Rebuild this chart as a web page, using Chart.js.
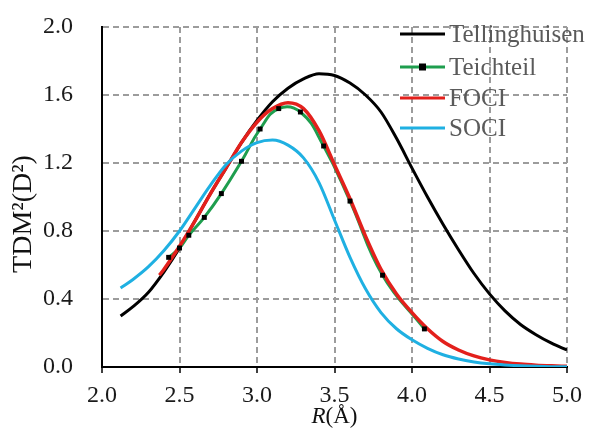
<!DOCTYPE html>
<html>
<head>
<meta charset="utf-8">
<script src="https://cdn.jsdelivr.net/npm/chart.js@4.4.1/dist/chart.umd.min.js"></script>
<style>
  html, body { margin: 0; padding: 0; background: #fff; }
  #wrap { width: 590px; height: 432px; }
</style>
</head>
<body>
<div id="wrap"><canvas id="myChart" width="590" height="432"></canvas></div>
<script>
// Tellinghuisen
const tellX = [2.12, 2.2, 2.3, 2.4, 2.5, 2.6, 2.7, 2.8, 2.9, 3.0, 3.1, 3.2, 3.3, 3.4, 3.5, 3.6, 3.7, 3.8, 3.9, 4.0, 4.1, 4.2, 4.3, 4.4, 4.5, 4.6, 4.7, 4.8, 4.9, 5.0];
const tellY = [0.30, 0.355, 0.44, 0.56, 0.70, 0.86, 1.02, 1.17, 1.32, 1.45, 1.56, 1.64, 1.695, 1.725, 1.715, 1.67, 1.60, 1.50, 1.345, 1.17, 1.00, 0.84, 0.69, 0.55, 0.43, 0.33, 0.25, 0.19, 0.14, 0.10];

// Teichteil (markers)
const teichX = [2.43, 2.50, 2.56, 2.66, 2.77, 2.90, 3.02, 3.14, 3.28, 3.43, 3.60, 3.81, 4.08];
const teichY = [0.645, 0.70, 0.775, 0.88, 1.02, 1.21, 1.40, 1.52, 1.50, 1.30, 0.976, 0.54, 0.224];

// FOCI
const fociX = [2.37, 2.4, 2.5, 2.6, 2.7, 2.8, 2.9, 3.0, 3.1, 3.2, 3.3, 3.4, 3.5, 3.6, 3.7, 3.8, 3.9, 4.0, 4.1, 4.2, 4.3, 4.4, 4.5, 4.6, 4.7, 4.8, 4.9, 5.0];
const fociY = [0.54, 0.575, 0.71, 0.86, 1.02, 1.17, 1.32, 1.44, 1.52, 1.555, 1.52, 1.39, 1.19, 0.99, 0.77, 0.575, 0.43, 0.32, 0.225, 0.15, 0.10, 0.065, 0.042, 0.027, 0.017, 0.011, 0.007, 0.004];

// SOCI
const sociX = [2.12, 2.2, 2.3, 2.4, 2.5, 2.6, 2.7, 2.8, 2.9, 3.0, 3.1, 3.2, 3.3, 3.4, 3.5, 3.6, 3.7, 3.8, 3.9, 4.0, 4.1, 4.2, 4.3, 4.4, 4.5, 4.6, 4.7, 4.8, 4.9, 5.0];
const sociY = [0.465, 0.515, 0.59, 0.685, 0.80, 0.935, 1.07, 1.19, 1.27, 1.32, 1.335, 1.305, 1.23, 1.085, 0.865, 0.645, 0.46, 0.32, 0.225, 0.16, 0.11, 0.072, 0.047, 0.03, 0.019, 0.012, 0.007, 0.004, 0.002, 0.001];

const seriesNames = ['Tellinghuisen', 'Teichteil', 'FOCI', 'SOCI'];
const seriesColors = ['#000000', '#1e9e4e', '#e3201c', '#1fb0e2'];

const xTicks = [2.0, 2.5, 3.0, 3.5, 4.0, 4.5, 5.0];
const yTicks = [0.0, 0.4, 0.8, 1.2, 1.6, 2.0];

const SERIF = '"Liberation Serif", "Times New Roman", serif';

function toPoints(xs, ys) {
	return xs.map(function (x, i) { return { x: x, y: ys[i] }; });
}

// legend + axis titles drawn by hand so they sit like the original
const refDecor = {
	id: 'refDecor',
	afterDraw(chart) {
		const ctx = chart.ctx;
		const area = chart.chartArea;
		ctx.save();

		// legend inside the plot, top right
		ctx.font = '25px ' + SERIF;
		ctx.textBaseline = 'middle';
		ctx.textAlign = 'left';
		const rows = [34, 67, 98, 128];
		for (let i = 0; i < seriesNames.length; i++) {
			ctx.strokeStyle = seriesColors[i];
			ctx.lineWidth = 3;
			ctx.beginPath();
			ctx.moveTo(400, rows[i]);
			ctx.lineTo(445, rows[i]);
			ctx.stroke();
			if (i === 1) {
				ctx.fillStyle = '#000';
				ctx.fillRect(419, rows[i] - 3.5, 7, 7);
			}
			ctx.fillStyle = '#5a5a5a';
			ctx.fillText(seriesNames[i], 449, rows[i] + 1);
		}

		// x title: R(Å) with italic R
		ctx.fillStyle = '#111';
		ctx.textBaseline = 'middle';
		ctx.font = 'italic 23px ' + SERIF;
		const r = 'R';
		const rest = '(Å)';
		const wR = ctx.measureText(r).width;
		ctx.font = '23px ' + SERIF;
		const wRest = ctx.measureText(rest).width;
		const cx = (area.left + area.right) / 2;
		let x0 = cx - (wR + wRest) / 2;
		ctx.font = 'italic 23px ' + SERIF;
		ctx.fillText(r, x0, 417);
		ctx.font = '23px ' + SERIF;
		ctx.fillText(rest, x0 + wR, 417);

		// y title
		ctx.translate(24, 214);
		ctx.rotate(-Math.PI / 2);
		ctx.font = '28px ' + SERIF;
		ctx.textAlign = 'center';
		ctx.fillText('TDM²(D²)', 0, 0);
		ctx.restore();
	}
};

const gridStyle = {
	color: '#9c9c9c',
	lineWidth: 2,
};

new Chart(document.getElementById('myChart').getContext('2d'), {
	type: 'scatter',
	data: {
		datasets: [
			{
				label: seriesNames[1] + ' markers',
				data: toPoints(teichX, teichY),
				showLine: false,
				pointStyle: 'rect',
				pointRadius: 3.5,
				pointBackgroundColor: '#000',
				pointBorderWidth: 0,
				order: 0,
			},
			{
				label: seriesNames[3],
				data: toPoints(sociX, sociY),
				showLine: true,
				borderColor: seriesColors[3],
				borderWidth: 3,
				pointRadius: 0,
				cubicInterpolationMode: 'monotone',
				order: 1,
			},
			{
				label: seriesNames[2],
				data: toPoints(fociX, fociY),
				showLine: true,
				borderColor: seriesColors[2],
				borderWidth: 3.5,
				pointRadius: 0,
				cubicInterpolationMode: 'monotone',
				order: 2,
			},
			{
				label: seriesNames[1],
				data: toPoints(teichX, teichY),
				showLine: true,
				borderColor: seriesColors[1],
				borderWidth: 3,
				pointRadius: 0,
				tension: 0.45,
				order: 3,
			},
			{
				label: seriesNames[0],
				data: toPoints(tellX, tellY),
				showLine: true,
				borderColor: seriesColors[0],
				borderWidth: 3,
				pointRadius: 0,
				cubicInterpolationMode: 'monotone',
				order: 4,
			},
		]
	},
	options: {
		responsive: false,
		animation: false,
		layout: { padding: { top: 27, right: 23, left: 0, bottom: 0 } },
		plugins: {
			legend: { display: false },
			tooltip: { enabled: false },
		},
		scales: {
			x: {
				type: 'linear',
				min: 2,
				max: 5,
				afterBuildTicks: function (scale) {
					scale.ticks = xTicks.map(function (v) { return { value: v }; });
				},
				afterFit: function (scale) { scale.height = 65; },
				ticks: {
					font: { family: SERIF, size: 24 },
					color: '#1a1a1a',
					padding: 8,
					maxRotation: 0,
					callback: function (v) { return Number(v).toFixed(1); },
				},
				grid: Object.assign({}, gridStyle, {
					drawTicks: true,
					tickLength: 6,
					tickColor: '#000',
					tickWidth: 1.5,
				}),
				border: { display: true, color: '#000', width: 2, dash: [6, 4] },
			},
			y: {
				type: 'linear',
				min: 0,
				max: 2,
				afterBuildTicks: function (scale) {
					scale.ticks = yTicks.map(function (v) { return { value: v }; });
				},
				afterFit: function (scale) {
					scale.width = 102;
					// tick padding is horizontal here; don't let it eat vertical room
					scale.paddingTop = 0;
					scale.paddingBottom = 0;
				},
				ticks: {
					font: { family: SERIF, size: 24 },
					color: '#1a1a1a',
					padding: 29,
					callback: function (v) { return Number(v).toFixed(1); },
				},
				grid: Object.assign({}, gridStyle, { drawTicks: false }),
				border: { display: true, color: '#000', width: 2, dash: [6, 4] },
			},
		},
	},
	plugins: [refDecor],
});
</script>
</body>
</html>
